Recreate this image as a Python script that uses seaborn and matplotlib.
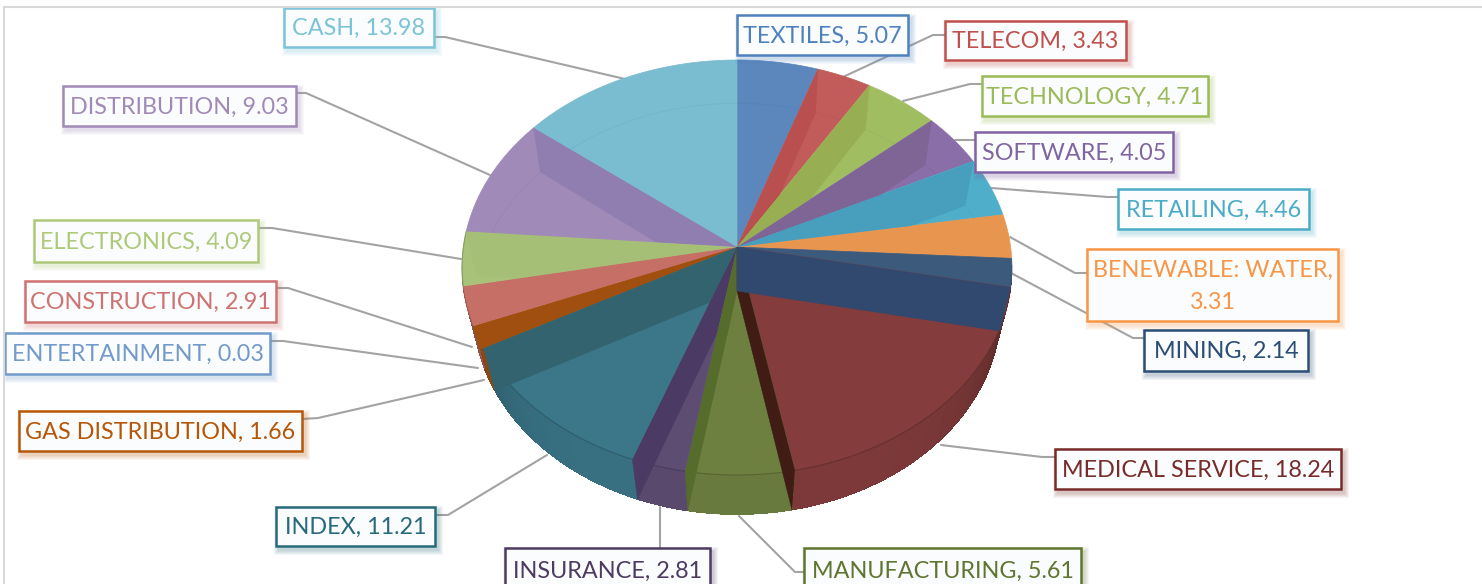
import matplotlib
matplotlib.use("Agg")
import matplotlib.pyplot as plt
from matplotlib.lines import Line2D
from matplotlib.patches import Polygon, Rectangle
import numpy as np
import seaborn as sns

categories = ["TEXTILES", "TELECOM", "TECHNOLOGY", "SOFTWARE", "RETAILING", "BENEWABLE: WATER",
              "MINING", "MEDICAL SERVICE", "MANUFACTURING", "INSURANCE", "INDEX", "GAS DISTRIBUTION",
              "ENTERTAINMENT", "CONSTRUCTION", "ELECTRONICS", "DISTRIBUTION", "CASH"]
values = [5.07, 3.43, 4.71, 4.05, 4.46, 3.31, 2.14, 18.24, 5.61, 2.81, 11.21, 1.66, 0.03, 2.91, 4.09, 9.03, 13.98]

label_colors = ["#4f81bd", "#c0504d", "#9bbb59", "#8064a2", "#4bacc6", "#f79646", "#2c4d75", "#772c2a", "#5f7530",
                "#4d3b62", "#276a7c", "#b65708", "#729aca", "#cd7371", "#afc97a", "#a18ab8", "#7bc4d8"]
face_colors = ["#5b87bd", "#c25c5a", "#a0bd62", "#8a6ea8", "#4fafca", "#e89550", "#3c5a7c", "#843c3c", "#6e8040",
               "#5e4d73", "#3b7689", "#b05a14", "#729aca", "#c9746b", "#a9c27a", "#a08ab8", "#7abcd0"]
wall_colors = ["#5b87bd", "#b94f4f", "#98ae53", "#7f6596", "#479fbd", "#e89550", "#31486f", "#401c14", "#566c2c",
               "#4b3a63", "#32636f", "#a04f10", "#729aca", "#c56f66", "#a6bf76", "#907eb0", "#7abcd0"]

# label boxes as left, top, right, bottom in pixels
boxes = [(737, 15, 908, 55), (945, 21, 1126, 60), (982, 76, 1208, 116), (975, 132, 1173, 172),
         (1118, 189, 1309, 229), (1087, 249, 1338, 321), (1144, 330, 1308, 371), (1055, 449, 1341, 489),
         (804, 548, 1081, 592), (505, 548, 710, 592), (276, 507, 435, 546), (19, 411, 302, 451),
         (5, 333, 270, 374), (25, 281, 276, 322), (34, 220, 258, 262), (63, 86, 296, 126), (284, 8, 434, 47)]

leaders = [None,
           [(945, 35), (933, 35), (843, 77)],
           [(982, 84), (970, 84), (903, 101)],
           [(975, 140), (955, 140)],
           [(1118, 197), (1108, 197), (991, 188)],
           [(1087, 273), (1075, 273), (1010, 237)],
           [(1144, 338), (1133, 338), (1011, 273)],
           [(1055, 457), (1042, 457), (941, 445)],
           [(804, 572), (795, 572), (739, 516)],
           [(660, 548), (660, 507)],
           [(435, 515), (448, 515), (547, 455)],
           [(302, 419), (318, 418), (484, 380)],
           [(270, 341), (283, 341), (478, 368)],
           [(276, 288), (288, 288), (472, 347)],
           [(258, 228), (272, 228), (461, 259)],
           [(296, 93), (306, 93), (490, 175)],
           [(434, 37), (445, 37), (625, 79)]]

cx = 737
top_face = dict(y0=247, a=273.6, b=205.5, p=0.0988)
base_face = dict(y0=291, a=263, b=204, p=0.087)


def project(theta, r, face):
    # theta in degrees clockwise from 12 o'clock, perspective view of a flat disc
    t = np.radians(theta)
    u = r * np.sin(t)
    v = r * np.cos(t)
    w = 1 + face["p"] * v
    return cx + face["a"] * u / w, face["y0"] - face["b"] * v / w


def arc(t1, t2, r, face):
    thetas = np.linspace(t1, t2, max(int(abs(t2 - t1)) * 2, 2))
    x, y = project(thetas, r, face)
    return list(zip(x, y))


def darker(color, amount):
    return tuple(np.array(matplotlib.colors.to_rgb(color)) * amount)


sns.set_theme(style="white")
plt.rcParams["font.family"] = ["Lato", "DejaVu Sans"]

fig, ax = plt.subplots(figsize=(14.82, 5.84), dpi=100)
ax.set_position([0, 0, 1, 1])
ax.set_xlim(0, 1482)
ax.set_ylim(584, 0)
ax.axis("off")

fig.add_artist(Line2D([3.5 / 1482, 3.5 / 1482], [0, 1 - 7 / 584], color="#d9d9d9", lw=1.5))
fig.add_artist(Line2D([3.5 / 1482, 1], [1 - 7 / 584, 1 - 7 / 584], color="#d9d9d9", lw=1.5))

for pts in leaders:
    if pts:
        ax.plot(*zip(*pts), color="#a3a3a3", lw=1.5, zorder=1)

edges = 360 * np.concatenate([[0], np.cumsum(values)]) / np.sum(values)
palette = sns.color_palette(face_colors)

# outer side of the pie, shaded towards the two ends
for i, color in enumerate(palette):
    t1, t2 = max(edges[i], 95), min(edges[i + 1], 265)
    if t2 <= t1:
        continue
    whole = arc(t1, t2, 1, top_face) + arc(t2, t1, 1, base_face)
    ax.fill(*zip(*whole), color=darker(color, 0.9), lw=0.3, zorder=2)
    for t in np.arange(t1, t2, 2.0):
        t_end = min(t + 2.0, t2)
        shade = 0.95 - 0.3 * abs(np.sin(np.radians(t))) ** 6
        quad = arc(t, t_end, 1, top_face) + arc(t_end, t, 1, base_face)
        ax.fill(*zip(*quad), color=darker(color, shade), lw=0, zorder=2.1, antialiased=False)

# top faces
for i, color in enumerate(palette):
    if values[i] < 0.1:
        continue
    pts = [project(0, 0, top_face)] + arc(edges[i], edges[i + 1], 1, top_face)
    ax.fill(*zip(*pts), color=color, lw=0.5, zorder=3)
    # faint line of the far base seen through the slice
    if edges[i + 1] < 101 or edges[i] > 265:
        x, y = zip(*arc(edges[i], edges[i + 1], 1, base_face))
        line = ax.plot(x, y, color=darker(color, 0.85), lw=0.8, alpha=0.2, zorder=3.5)[0]
        line.set_clip_path(Polygon(pts, transform=ax.transData))
    elif 101 <= edges[i] < 265:
        x, y = zip(*arc(edges[i], edges[i + 1], 1, top_face))
        ax.plot(x, y, color=darker(color, 0.7), lw=0.8, alpha=0.7, zorder=3.5)


def draw_wall(theta, owner, zorder, clip=True):
    quad = [project(0, 0, top_face), project(theta, 1, top_face),
            project(theta, 1, base_face), project(0, 0, base_face)]
    patch = ax.fill(*zip(*quad), color=wall_colors[owner], lw=0.3, zorder=zorder)[0]
    if clip:
        wedge = [project(0, 0, top_face)] + arc(edges[owner], edges[owner + 1], 1.4, top_face)
        patch.set_clip_path(Polygon(wedge, transform=ax.transData))


# inner walls between slices, seen through the translucent pie
for i in range(1, len(values)):
    theta = edges[i]
    owner = i if theta < 180 else i - 1
    if categories[i - 1] == "MINING":
        draw_wall(theta, i - 1, 4.6, clip=False)
    elif categories[i - 1] == "MEDICAL SERVICE":
        draw_wall(theta, i - 1, 4.5, clip=False)
    elif categories[owner] in ("MINING", "BENEWABLE: WATER", "ENTERTAINMENT"):
        continue
    else:
        draw_wall(theta, owner, 4 + theta / 1000 if theta < 180 else 4 + (360 - theta) / 1000)

for name, value, box, color in zip(categories, values, boxes, label_colors):
    x1, y1, x2, y2 = box
    for k in range(5, 0, -1):
        ax.add_patch(Rectangle((x1 + 3 - k, y1 + 4 - k), x2 - x1 + 2 * k, y2 - y1 + 2 * k,
                               fc=color, ec="none", alpha=0.06, zorder=5))
    ax.add_patch(Rectangle((x1, y1), x2 - x1, y2 - y1, fc="#fbfcfd", ec=color, lw=1.8, zorder=6))
    text = f"{name}, {value:.2f}"
    if name == "BENEWABLE: WATER":
        text = f"{name},\n{value:.2f}"
    ax.text((x1 + x2) / 2, (y1 + y2) / 2 + 1, text, color=color, fontsize=16.8, ha="center",
            va="center", linespacing=1.65, zorder=7)

fig.savefig("out.png", dpi=100)
